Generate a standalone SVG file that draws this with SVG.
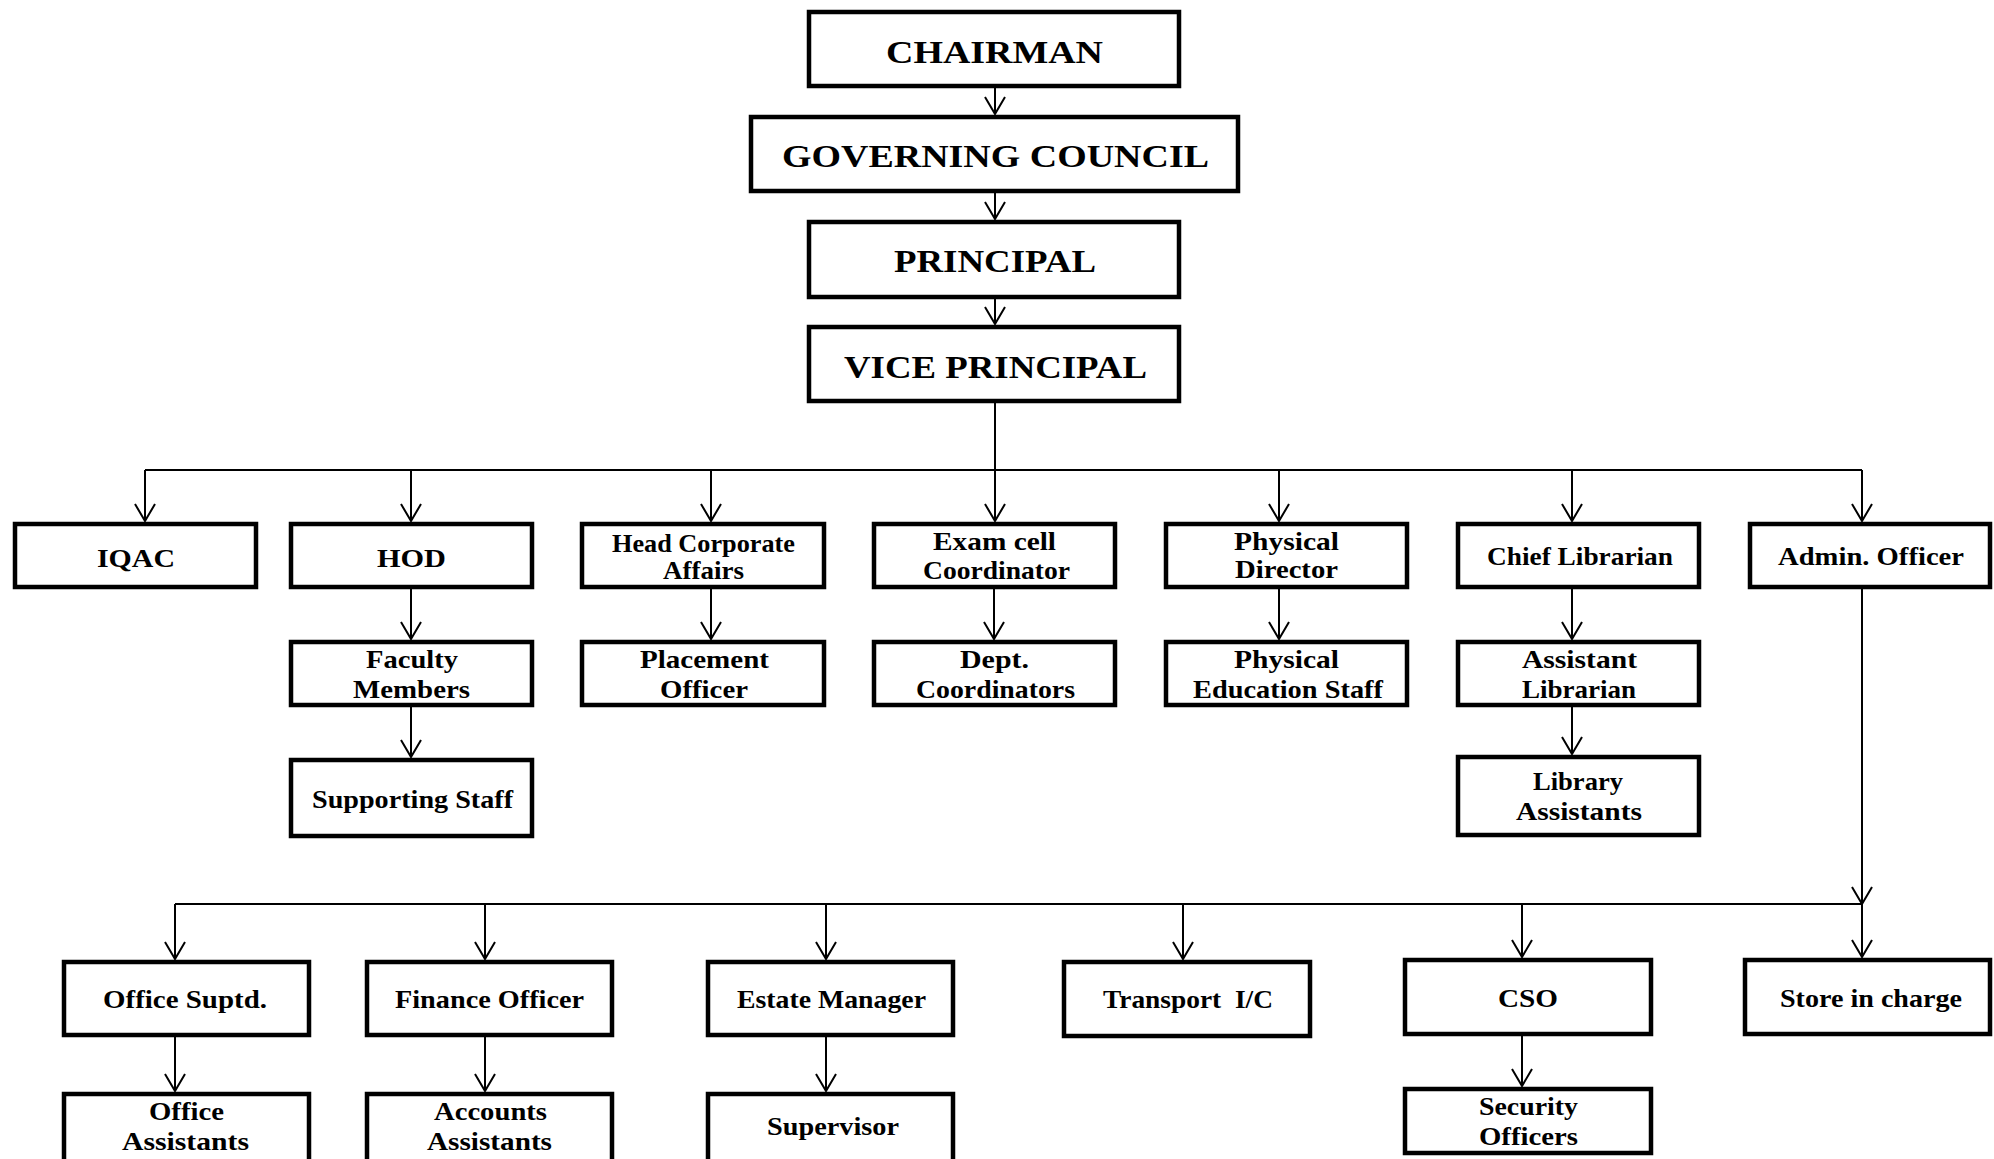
<svg xmlns="http://www.w3.org/2000/svg" width="1994" height="1159" viewBox="0 0 1994 1159">
<style>
.box{fill:#fff;stroke:#000;stroke-width:4.5}
.c{fill:none;stroke:#000;stroke-width:2}
text{font-family:"Liberation Serif","Times New Roman",serif;font-weight:bold;fill:#000}
.t1{font-size:32px}
.t2{font-size:25px}
</style>
<defs>
<marker id="ah" markerUnits="userSpaceOnUse" markerWidth="22" markerHeight="24" viewBox="0 0 22 24" refX="19" refY="12" orient="auto">
<path d="M2,2 L19,12 L2,22" fill="none" stroke="#000" stroke-width="2"/>
</marker>
</defs>
<rect width="1994" height="1159" fill="#fff"/>
<g id="connectors">
<path class="c" d="M995,88 V114" marker-end="url(#ah)"/>
<path class="c" d="M995,193 V219" marker-end="url(#ah)"/>
<path class="c" d="M995,299 V324" marker-end="url(#ah)"/>
<path class="c" d="M995,403 V470"/>
<path class="c" d="M145,470 H1862"/>
<path class="c" d="M145,470 V521" marker-end="url(#ah)"/>
<path class="c" d="M411,470 V521" marker-end="url(#ah)"/>
<path class="c" d="M711,470 V521" marker-end="url(#ah)"/>
<path class="c" d="M995,470 V521" marker-end="url(#ah)"/>
<path class="c" d="M1279,470 V521" marker-end="url(#ah)"/>
<path class="c" d="M1572,470 V521" marker-end="url(#ah)"/>
<path class="c" d="M1862,470 V521" marker-end="url(#ah)"/>
<path class="c" d="M411,589 V639" marker-end="url(#ah)"/>
<path class="c" d="M711,589 V639" marker-end="url(#ah)"/>
<path class="c" d="M994,589 V639" marker-end="url(#ah)"/>
<path class="c" d="M1279,589 V639" marker-end="url(#ah)"/>
<path class="c" d="M1572,589 V639" marker-end="url(#ah)"/>
<path class="c" d="M411,707 V757" marker-end="url(#ah)"/>
<path class="c" d="M1572,707 V754" marker-end="url(#ah)"/>
<path class="c" d="M1862,589 V904" marker-end="url(#ah)"/>
<path class="c" d="M1862,904 V957" marker-end="url(#ah)"/>
<path class="c" d="M175,904 H1862"/>
<path class="c" d="M175,904 V959" marker-end="url(#ah)"/>
<path class="c" d="M485,904 V959" marker-end="url(#ah)"/>
<path class="c" d="M826,904 V959" marker-end="url(#ah)"/>
<path class="c" d="M1183,904 V959" marker-end="url(#ah)"/>
<path class="c" d="M1522,904 V957" marker-end="url(#ah)"/>
<path class="c" d="M175,1037 V1091" marker-end="url(#ah)"/>
<path class="c" d="M485,1037 V1091" marker-end="url(#ah)"/>
<path class="c" d="M826,1037 V1091" marker-end="url(#ah)"/>
<path class="c" d="M1522,1036 V1086" marker-end="url(#ah)"/>
</g>
<g id="chairman"><rect class="box" x="809" y="12" width="370" height="74"/><text class="t1" x="886" y="63" textLength="217" lengthAdjust="spacingAndGlyphs">CHAIRMAN</text></g>
<g id="governing-council"><rect class="box" x="751" y="117" width="487" height="74"/><text class="t1" x="782" y="167" textLength="427" lengthAdjust="spacingAndGlyphs">GOVERNING COUNCIL</text></g>
<g id="principal"><rect class="box" x="809" y="222" width="370" height="75"/><text class="t1" x="894" y="272" textLength="202" lengthAdjust="spacingAndGlyphs">PRINCIPAL</text></g>
<g id="vice-principal"><rect class="box" x="809" y="327" width="370" height="74"/><text class="t1" x="844" y="378" textLength="303" lengthAdjust="spacingAndGlyphs">VICE PRINCIPAL</text></g>

<g id="iqac"><rect class="box" x="15" y="524" width="241" height="63"/><text class="t2" x="97" y="567" textLength="78" lengthAdjust="spacingAndGlyphs">IQAC</text></g>
<g id="hod"><rect class="box" x="291" y="524" width="241" height="63"/><text class="t2" x="377" y="567" textLength="69" lengthAdjust="spacingAndGlyphs">HOD</text></g>
<g id="head-corporate-affairs"><rect class="box" x="582" y="524" width="242" height="63"/><text class="t2" x="612" y="552" textLength="183" lengthAdjust="spacingAndGlyphs">Head Corporate</text><text class="t2" x="663" y="579" textLength="81" lengthAdjust="spacingAndGlyphs">Affairs</text></g>
<g id="exam-cell-coordinator"><rect class="box" x="874" y="524" width="241" height="63"/><text class="t2" x="933" y="550" textLength="123" lengthAdjust="spacingAndGlyphs">Exam cell</text><text class="t2" x="923" y="579" textLength="147" lengthAdjust="spacingAndGlyphs">Coordinator</text></g>
<g id="physical-director"><rect class="box" x="1166" y="524" width="241" height="63"/><text class="t2" x="1234" y="550" textLength="105" lengthAdjust="spacingAndGlyphs">Physical</text><text class="t2" x="1235" y="578" textLength="103" lengthAdjust="spacingAndGlyphs">Director</text></g>
<g id="chief-librarian"><rect class="box" x="1458" y="524" width="241" height="63"/><text class="t2" x="1487" y="565" textLength="186" lengthAdjust="spacingAndGlyphs">Chief Librarian</text></g>
<g id="admin-officer"><rect class="box" x="1750" y="524" width="240" height="63"/><text class="t2" x="1778" y="565" textLength="186" lengthAdjust="spacingAndGlyphs">Admin. Officer</text></g>

<g id="faculty-members"><rect class="box" x="291" y="642" width="241" height="63"/><text class="t2" x="366" y="668" textLength="92" lengthAdjust="spacingAndGlyphs">Faculty</text><text class="t2" x="353" y="698" textLength="117" lengthAdjust="spacingAndGlyphs">Members</text></g>
<g id="placement-officer"><rect class="box" x="582" y="642" width="242" height="63"/><text class="t2" x="640" y="668" textLength="129" lengthAdjust="spacingAndGlyphs">Placement</text><text class="t2" x="660" y="698" textLength="88" lengthAdjust="spacingAndGlyphs">Officer</text></g>
<g id="dept-coordinators"><rect class="box" x="874" y="642" width="241" height="63"/><text class="t2" x="960" y="668" textLength="69" lengthAdjust="spacingAndGlyphs">Dept.</text><text class="t2" x="916" y="698" textLength="159" lengthAdjust="spacingAndGlyphs">Coordinators</text></g>
<g id="physical-education-staff"><rect class="box" x="1166" y="642" width="241" height="63"/><text class="t2" x="1234" y="668" textLength="105" lengthAdjust="spacingAndGlyphs">Physical</text><text class="t2" x="1193" y="698" textLength="190" lengthAdjust="spacingAndGlyphs">Education Staff</text></g>
<g id="assistant-librarian"><rect class="box" x="1458" y="642" width="241" height="63"/><text class="t2" x="1522" y="668" textLength="115" lengthAdjust="spacingAndGlyphs">Assistant</text><text class="t2" x="1522" y="698" textLength="114" lengthAdjust="spacingAndGlyphs">Librarian</text></g>

<g id="supporting-staff"><rect class="box" x="291" y="760" width="241" height="76"/><text class="t2" x="312" y="808" textLength="201" lengthAdjust="spacingAndGlyphs">Supporting Staff</text></g>
<g id="library-assistants"><rect class="box" x="1458" y="757" width="241" height="78"/><text class="t2" x="1533" y="790" textLength="90" lengthAdjust="spacingAndGlyphs">Library</text><text class="t2" x="1516" y="820" textLength="126" lengthAdjust="spacingAndGlyphs">Assistants</text></g>

<g id="office-suptd"><rect class="box" x="64" y="962" width="245" height="73"/><text class="t2" x="103" y="1008" textLength="164" lengthAdjust="spacingAndGlyphs">Office Suptd.</text></g>
<g id="finance-officer"><rect class="box" x="367" y="962" width="245" height="73"/><text class="t2" x="395" y="1008" textLength="189" lengthAdjust="spacingAndGlyphs">Finance Officer</text></g>
<g id="estate-manager"><rect class="box" x="708" y="962" width="245" height="73"/><text class="t2" x="737" y="1008" textLength="189" lengthAdjust="spacingAndGlyphs">Estate Manager</text></g>
<g id="transport-ic"><rect class="box" x="1064" y="962" width="246" height="74"/><text class="t2" x="1103" y="1008" textLength="170" lengthAdjust="spacingAndGlyphs" xml:space="preserve">Transport  I/C</text></g>
<g id="cso"><rect class="box" x="1405" y="960" width="246" height="74"/><text class="t2" x="1498" y="1007" textLength="60" lengthAdjust="spacingAndGlyphs">CSO</text></g>
<g id="store-in-charge"><rect class="box" x="1745" y="960" width="245" height="74"/><text class="t2" x="1780" y="1007" textLength="182" lengthAdjust="spacingAndGlyphs">Store in charge</text></g>

<g id="office-assistants"><rect class="box" x="64" y="1094" width="245" height="76"/><text class="t2" x="149" y="1120" textLength="75" lengthAdjust="spacingAndGlyphs">Office</text><text class="t2" x="122" y="1150" textLength="127" lengthAdjust="spacingAndGlyphs">Assistants</text></g>
<g id="accounts-assistants"><rect class="box" x="367" y="1094" width="245" height="76"/><text class="t2" x="434" y="1120" textLength="113" lengthAdjust="spacingAndGlyphs">Accounts</text><text class="t2" x="427" y="1150" textLength="125" lengthAdjust="spacingAndGlyphs">Assistants</text></g>
<g id="supervisor"><rect class="box" x="708" y="1094" width="245" height="76"/><text class="t2" x="767" y="1135" textLength="132" lengthAdjust="spacingAndGlyphs">Supervisor</text></g>
<g id="security-officers"><rect class="box" x="1405" y="1089" width="246" height="64"/><text class="t2" x="1479" y="1115" textLength="99" lengthAdjust="spacingAndGlyphs">Security</text><text class="t2" x="1479" y="1145" textLength="99" lengthAdjust="spacingAndGlyphs">Officers</text></g>
</svg>
